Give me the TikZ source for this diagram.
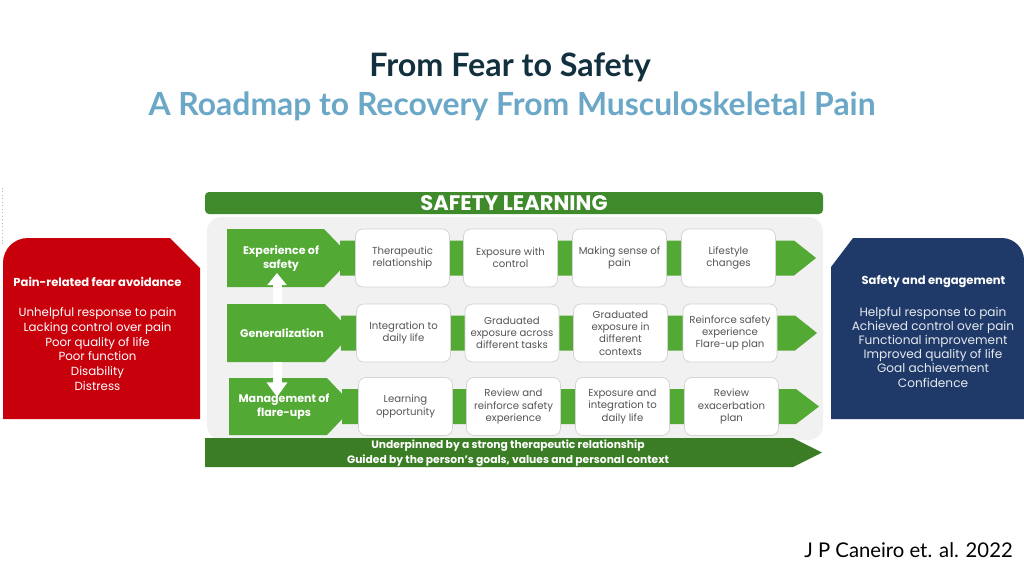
\documentclass[tikz,border=0pt]{standalone}
\usepackage{fontspec}
\setmainfont{Poppins}
\newfontfamily\latofont{Lato}
\usetikzlibrary{arrows.meta}
\definecolor{titledark}{HTML}{12303E}
\definecolor{titleblue}{HTML}{6BA8C8}
\definecolor{redbox}{HTML}{C8000B}
\definecolor{bluebox}{HTML}{1F3A68}
\definecolor{dgreen}{HTML}{3F8A2B}
\definecolor{bgreen}{HTML}{3B7D24}
\definecolor{lgreen}{HTML}{52A934}
\definecolor{panel}{HTML}{F1F1F1}
\definecolor{boxline}{HTML}{D4D4D4}
\definecolor{boxtext}{HTML}{555555}
\definecolor{bluetext}{HTML}{E6E9EF}
\begin{document}
\begin{tikzpicture}[x=0.75pt,y=-0.75pt,
  wbox/.style={draw=boxline, line width=0.6pt, fill=white, rounded corners=5.5pt,
    minimum width=70.5pt, minimum height=43.5pt, inner sep=0pt, align=center,
    text=boxtext, font=\fontsize{7.6pt}{9.2pt}\selectfont},
  chevtext/.style={text=white, align=center, inner sep=0pt,
    font=\bfseries\fontsize{8.3pt}{10.5pt}\selectfont},
  sidehead/.style={text=white, inner sep=0pt, font=\bfseries\fontsize{8.65pt}{10pt}\selectfont},
  sidelist/.style={inner sep=0pt, align=center},
  warrow/.style={draw=white, line width=6.75pt},
  lband/.style={fill=lgreen}
]
\useasboundingbox (0,0) rectangle (1024,576);
\fill[white] (0,0) rectangle (1024,576);

% titles
\node[anchor=base, text=titledark, inner sep=0pt,
  font=\latofont\bfseries\fontsize{24.2pt}{28pt}\selectfont] (t1) at (510,76) {From Fear to Safety};
\node[anchor=base, text=titleblue, inner sep=0pt,
  font=\latofont\bfseries\fontsize{23.9pt}{28pt}\selectfont] (t2) at (512,115) {A Roadmap to Recovery From Musculoskeletal Pain};

% dotted edge line
\draw[gray!55, dotted, line width=0.6pt] (2,188) -- (2,246);

% red box
\fill[redbox] (3,419) -- (3,263) .. controls (3,249) and (14,238) .. (28,238)
  -- (170,238) -- (200,268) -- (200,419) -- cycle;
\node[sidehead] (redh) at (97.5,282) {Pain-related fear avoidance};
\node[sidelist, text=white, font=\fontsize{8.85pt}{11pt}\selectfont] (redl) at (97.5,349)
  {Unhelpful response to pain\\Lacking control over pain\\Poor quality of life\\Poor function\\Disability\\Distress};

% blue box
\fill[bluebox] (831,419) -- (831,267) -- (853,238) -- (1002,238)
  .. controls (1014,238) and (1024,248) .. (1024,260) -- (1024,419) -- cycle;
\node[sidehead] (blueh) at (933.5,282) {Safety and engagement};
\node[sidelist, text=bluetext, font=\fontsize{9.1pt}{10.65pt}\selectfont] (bluel) at (933,347)
  {Helpful response to pain\\Achieved control over pain\\Functional improvement\\Improved quality of life\\Goal achievement\\Confidence};

% safety learning bar
\fill[dgreen, rounded corners=3pt] (205,192) rectangle (823,214);
\node[text=white, inner sep=0pt, font=\bfseries\fontsize{15.8pt}{18pt}\selectfont] (sl) at (514,203.5) {SAFETY LEARNING};

% panel
\fill[panel, rounded corners=11pt] (207,217) rectangle (823,440);

% row 1 (centre 258)
\fill[lband] (340,240.5) -- (794,240.5) -- (816,258) -- (794,275.5) -- (340,275.5) -- cycle;
\fill[lband] (227,229) -- (324,229) -- (352,258) -- (324,287) -- (227,287) -- cycle;
\node[chevtext] (exp) at (281,259) {Experience of\\safety};
\node[wbox] (b11) at (402.5,258) {Therapeutic\\relationship};
\node[wbox] (b12) at (510.5,258) {Exposure with\\control};
\node[wbox] (b13) at (619.5,258) {Making sense of\\pain};
\node[wbox] (b14) at (728.5,258) {Lifestyle\\changes};

% row 2 (centre 333)
\fill[lband] (341,315.5) -- (795,315.5) -- (817,333) -- (795,350.5) -- (341,350.5) -- cycle;
\fill[lband] (227,304) -- (325,304) -- (353,333) -- (325,362) -- (227,362) -- cycle;
\node[chevtext] (gen) at (282,333) {Generalization};
\node[wbox] (b21) at (403.5,333) {Integration to\\daily life};
\node[wbox] (b22) at (512,333) {Graduated\\exposure across\\different tasks};
\node[wbox] (b23) at (620.5,333) {Graduated\\exposure in\\different\\contexts};
\node[wbox] (b24) at (730,333) {Reinforce safety\\experience\\Flare-up plan};

% row 3 (centre 406.5)
\fill[lband] (342,389) -- (796,389) -- (819,406.5) -- (796,424) -- (342,424) -- cycle;
\fill[lband] (229,378) -- (327,378) -- (354,406.5) -- (327,435) -- (229,435) -- cycle;
\node[chevtext] (man) at (284,407) {Management of\\flare-ups};
\node[wbox] (b31) at (405.5,406.5) {Learning\\opportunity};
\node[wbox] (b32) at (513.5,406.5) {Review and\\reinforce safety\\experience};
\node[wbox] (b33) at (622.5,406.5) {Exposure and\\integration to\\daily life};
\node[wbox] (b34) at (731.5,406.5) {Review\\exacerbation\\plan};

% white arrows between stages
\coordinate (genN) at (277,304);
\coordinate (expS) at (277,273);
\coordinate (genS) at (277,362);
\coordinate (manN) at (277,397);
\draw[warrow, -{Triangle[length=9pt,width=14pt]}] (genN) -- (expS);
\draw[warrow, -{Triangle[length=11pt,width=15pt]}] (genS) -- (manN);

% bottom bar
\fill[bgreen] (205,438) -- (793,438) -- (822,452.5) -- (793,467) -- (205,467) -- cycle;
\node[text=white, inner sep=0pt, align=center,
  font=\bfseries\fontsize{8.05pt}{11.2pt}\selectfont] (under) at (508,453.5)
  {Underpinned by a strong therapeutic relationship\\Guided by the person’s goals, values and personal context};

% citation
\node[anchor=base east, inner sep=0pt, text=black,
  font=\latofont\fontsize{15.2pt}{17pt}\selectfont] (cite) at (1013,557) {J P Caneiro et. al. 2022};
\end{tikzpicture}
\end{document}
